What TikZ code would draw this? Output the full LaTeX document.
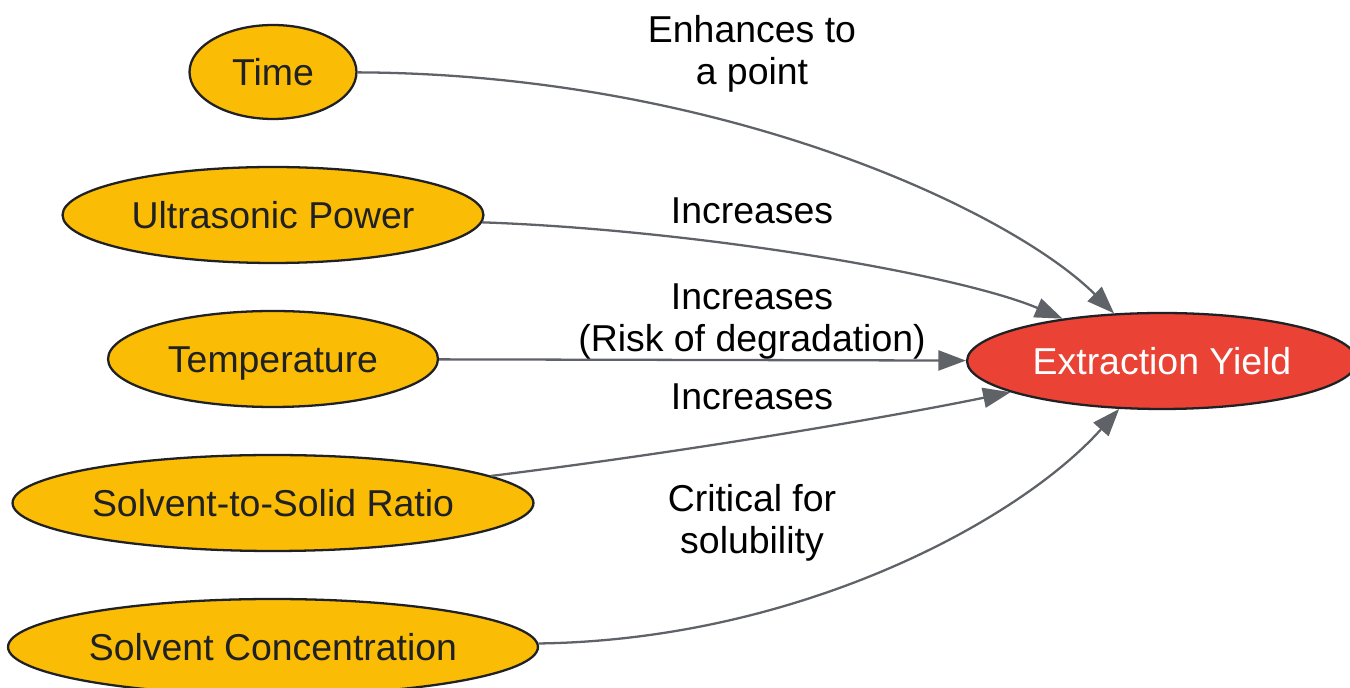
\documentclass[tikz,border=0pt]{standalone}
\usepackage{fontspec}
\setmainfont{Liberation Sans}
\usetikzlibrary{shapes.geometric,arrows.meta}
\definecolor{factorfill}{HTML}{FBBC05}
\definecolor{yieldfill}{HTML}{EA4335}
\definecolor{edgegray}{HTML}{5F6368}
\definecolor{inkdark}{HTML}{202124}

\begin{document}
\begin{tikzpicture}[x=0.02cm,y=-0.02cm]
				\tikzstyle{every node}=[font=\fontsize{21.3}{23.9}\selectfont]
				\tikzstyle{factor}=[ellipse,draw=inkdark,line width=1.3pt,fill=factorfill,text=inkdark,inner sep=0pt,minimum height=1.92cm,text height=0.54cm,text depth=0cm]
				\tikzstyle{result}=[ellipse,draw=inkdark,line width=1.3pt,fill=yieldfill,text=white,inner sep=0pt,minimum height=1.92cm,minimum width=7.8cm,text height=0.54cm,text depth=0cm]
				\tikzstyle{edge}=[draw=edgegray,line width=1.3pt,-{Triangle[length=5.5mm,width=4mm]}]
				\tikzstyle{elabel}=[align=center,text=black]
				\useasboundingbox (0,0) rectangle (1350,688);
				% factors
				\node[factor,minimum width=3.34cm,minimum height=1.88cm] (time) at (273,72) {Time};
				\node[factor,minimum width=8.42cm] (power) at (273,215) {Ultrasonic Power};
				\node[factor,minimum width=6.6cm] (temp) at (273,359) {Temperature};
				\node[factor,minimum width=10.42cm] (ratio) at (273,503) {Solvent-to-Solid Ratio};
				\node[factor,minimum width=10.6cm] (conc) at (273,647) {Solvent Concentration};
				% outcome
				\node[result] (yield) at (1162,361) {Extraction Yield};
				% effects
				\draw[edge] (time) .. controls (720,74) and (1010,210) .. (yield);
				\draw[edge] (power) .. controls (700,230) and (960,275) .. (yield);
				\draw[edge] (temp) -- (yield);
				\draw[edge] (ratio) .. controls (700,450) and (900,415) .. (yield);
				\draw[edge] (conc) .. controls (800,640) and (1020,520) .. (yield);
				\node[elabel] (l1) at (752,54) {Enhances to\\a point};
				\node[elabel] (l2) at (752,211) {Increases};
				\node[elabel] (l3) at (752,322) {Increases\\(Risk of degradation)};
				\node[elabel] (l4) at (752,397) {Increases};
				\node[elabel] (l5) at (752,523) {Critical for\\solubility};
\end{tikzpicture}
\end{document}
